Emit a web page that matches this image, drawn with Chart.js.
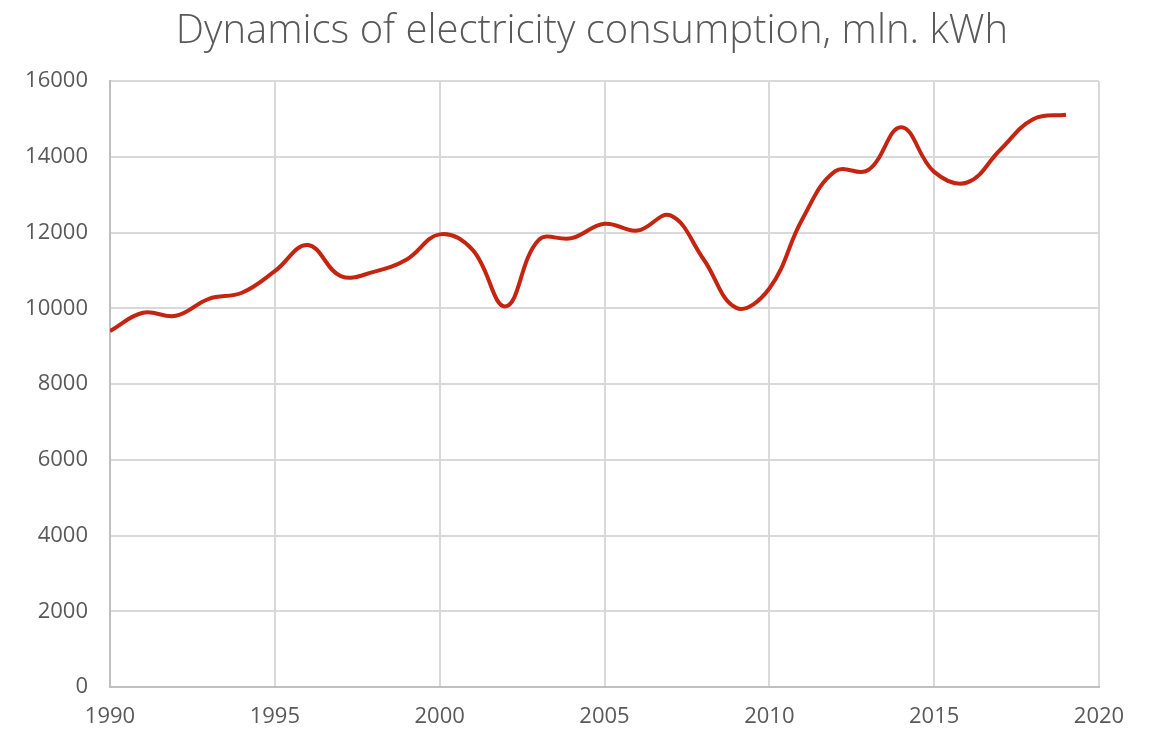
<!DOCTYPE html>
<html>
<head>
<meta charset="utf-8">
<script src="https://cdn.jsdelivr.net/npm/chart.js@4"></script>
<style>
  html, body { margin: 0; padding: 0; background: #ffffff; }
  #wrap { width: 1153px; height: 730px; position: relative; }
</style>
</head>
<body>
<div id="wrap"><canvas id="c" width="1153" height="730"></canvas></div>
<script>
const years = [1990,1991,1992,1993,1994,1995,1996,1997,1998,1999,2000,2001,2002,2003,2004,2005,2006,2007,2008,2009,2010,2011,2012,2013,2014,2015,2016,2017,2018,2019];
const consumption = [9400,9880,9800,10250,10410,10980,11670,10850,10960,11290,11950,11540,10050,11800,11850,12230,12050,12450,11300,10010,10520,12350,13620,13650,14780,13600,13320,14180,14990,15110];
const yTicks = [0,2000,4000,6000,8000,10000,12000,14000,16000];
const xTicks = [1990,1995,2000,2005,2010,2015,2020];
const titleText = 'Dynamics of electricity consumption, mln. kWh';

const points = years.map((y, i) => ({ x: y, y: consumption[i] }));
const FONT = "'Open Sans', 'DejaVu Sans', sans-serif";
const TEXT = '#595959';
const GRID = '#d9d9d9';

const titlePlugin = {
  id: 'pageTitle',
  afterDraw(chart) {
    const ctx = chart.ctx;
    ctx.save();
    ctx.fillStyle = TEXT;
    ctx.font = "300 40px " + FONT;
    ctx.textAlign = 'center';
    ctx.textBaseline = 'alphabetic';
    ctx.fillText(titleText, 592, 43);
    ctx.restore();
  }
};

new Chart(document.getElementById('c'), {
  type: 'line',
  data: {
    datasets: [{
      data: points,
      borderColor: '#c42410',
      borderWidth: 4,
      pointRadius: 0,
      tension: 0.4,
      fill: false
    }]
  },
  options: {
    responsive: false,
    animation: false,
    layout: { padding: { left: 0, right: 54, top: 81, bottom: 0 } },
    plugins: {
      legend: { display: false },
      tooltip: { enabled: false },
      title: { display: false }
    },
    scales: {
      x: {
        type: 'linear',
        min: xTicks[0],
        max: xTicks[xTicks.length - 1],
        afterBuildTicks: (s) => { s.ticks = xTicks.map(v => ({ value: v })); },
        afterFit: (s) => { s.height = 43; },
        ticks: {
          color: TEXT,
          font: { family: FONT, size: 22 },
          maxRotation: 0,
          padding: 17,
          callback: (v) => String(v)
        },
        grid: { color: GRID, lineWidth: 2, drawTicks: false },
        border: { color: '#bfbfbf', width: 2 }
      },
      y: {
        min: yTicks[0],
        max: yTicks[yTicks.length - 1],
        afterBuildTicks: (s) => { s.ticks = yTicks.map(v => ({ value: v })); },
        afterFit: (s) => { s.width = 110; },
        ticks: {
          color: TEXT,
          font: { family: FONT, size: 22 },
          padding: 22,
          callback: (v) => String(v)
        },
        grid: { color: GRID, lineWidth: 2, drawTicks: false },
        border: { color: '#bfbfbf', width: 2 }
      }
    }
  },
  plugins: [titlePlugin]
});
</script>
</body>
</html>
